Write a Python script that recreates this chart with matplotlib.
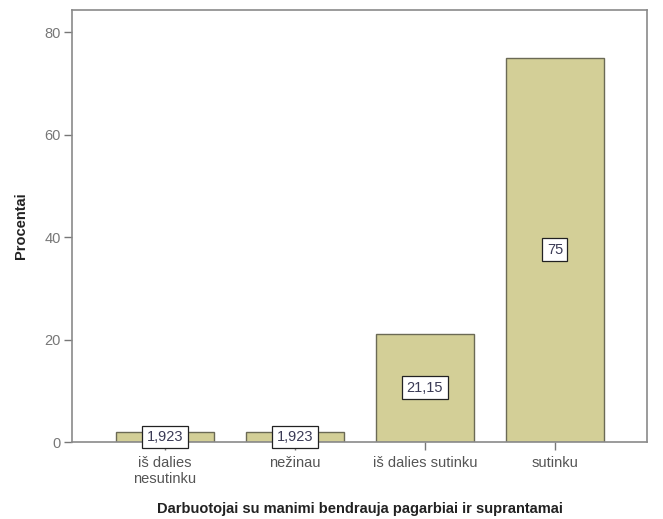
import matplotlib
matplotlib.use("Agg")
import matplotlib.pyplot as plt

categories = ["iš dalies\nnesutinku", "nežinau", "iš dalies sutinku", "sutinku"]
values = [1.923, 1.923, 21.15, 75.0]
value_labels = ["1,923", "1,923", "21,15", "75"]
yticks = [0, 20, 40, 60, 80]

fig = plt.figure(figsize=(6.63, 5.19), dpi=100)
ax = fig.add_axes([72 / 663, 77 / 519, 575 / 663, 432 / 519])

x = list(range(len(categories)))
ax.bar(x, values, width=0.75, color="#d3cf97", edgecolor="#6b6a55", linewidth=1.0)

for xi, v, lab in zip(x, values, value_labels):
    ax.text(xi, v / 2, lab, ha="center", va="center", fontsize=10.5, color="#3a3a55",
            family="Liberation Sans",
            bbox=dict(boxstyle="square,pad=0.3", facecolor="white", edgecolor="#222222", linewidth=0.9))

ax.set_xlim(-0.715, 3.708)
ax.set_ylim(0, 84.3)
ax.set_xticks(x)
ax.set_xticklabels(categories, fontsize=10.5, color="#555555", family="Liberation Sans", linespacing=1.15)
ax.set_yticks(yticks)
ax.set_yticklabels([str(t) for t in yticks], fontsize=10.5, color="#777777", family="Liberation Sans")
ax.tick_params(axis="both", direction="out", length=6, width=1, color="#777777")
ax.tick_params(axis="y", pad=2)
ax.tick_params(axis="x", pad=4)

for s in ax.spines.values():
    s.set_color("#8a8a8a")
    s.set_linewidth(1.2)

ax.set_ylabel("Procentai", fontsize=10.5, fontweight="bold", family="Liberation Sans", color="#222222", labelpad=12)
ax.set_xlabel("Darbuotojai su manimi bendrauja pagarbiai ir suprantamai", fontsize=10.5,
              fontweight="bold", family="Liberation Sans", color="#222222", labelpad=12)

fig.savefig("out.png", dpi=100)
